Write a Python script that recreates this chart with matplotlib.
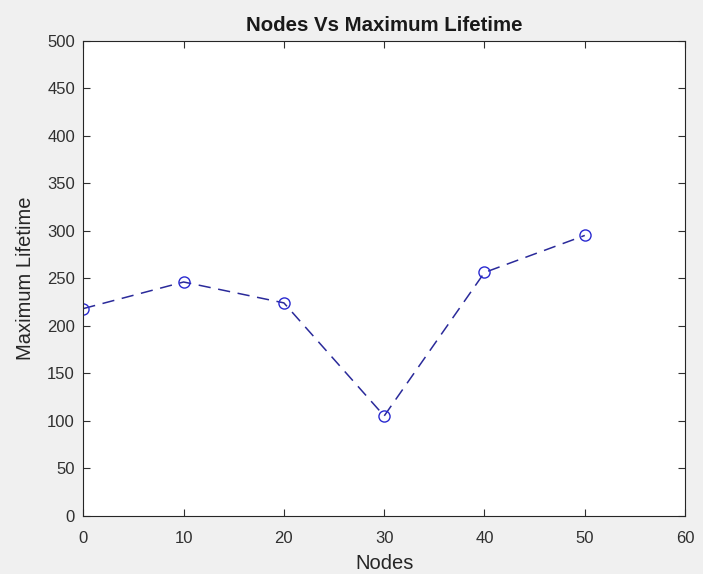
import matplotlib
matplotlib.use("Agg")
import matplotlib.pyplot as plt

nodes = [0, 10, 20, 30, 40, 50]
lifetime = [218, 246, 224, 105, 256, 295]
xticks = [0, 10, 20, 30, 40, 50, 60]
yticks = [0, 50, 100, 150, 200, 250, 300, 350, 400, 450, 500]

plt.rcParams['font.family'] = ['Liberation Sans', 'DejaVu Sans']

fig = plt.figure(figsize=(7.03, 5.74), dpi=100, facecolor='#f0f0f0')
ax = fig.add_axes([0.1185, 0.1016, 0.856, 0.8275])
ax.set_facecolor('white')

ax.plot(nodes, lifetime, linestyle=(0, (8, 5)), color='#2a2a9a', linewidth=1.1,
        marker='o', markersize=8, markerfacecolor='none', markeredgecolor='#2a2ad0',
        markeredgewidth=1.0)

ax.set_xlim(0, 60)
ax.set_ylim(0, 500)
ax.set_xticks(xticks)
ax.set_yticks(yticks)
ax.tick_params(direction='in', top=True, right=True, labelsize=12, colors='#303030',
               length=5, width=0.8)
ax.tick_params(axis='x', pad=11)
ax.tick_params(axis='y', pad=6)
for s in ax.spines.values():
    s.set_color('#262626')
    s.set_linewidth(0.8)

ax.set_title('Nodes Vs Maximum Lifetime', fontsize=14.7, fontweight='bold', color='#1a1a1a', pad=7)
ax.set_xlabel('Nodes', fontsize=14.5, color='#262626', labelpad=6)
ax.set_ylabel('Maximum Lifetime', fontsize=14.5, color='#262626', labelpad=9)

fig.savefig('out.png', dpi=100, facecolor=fig.get_facecolor())
